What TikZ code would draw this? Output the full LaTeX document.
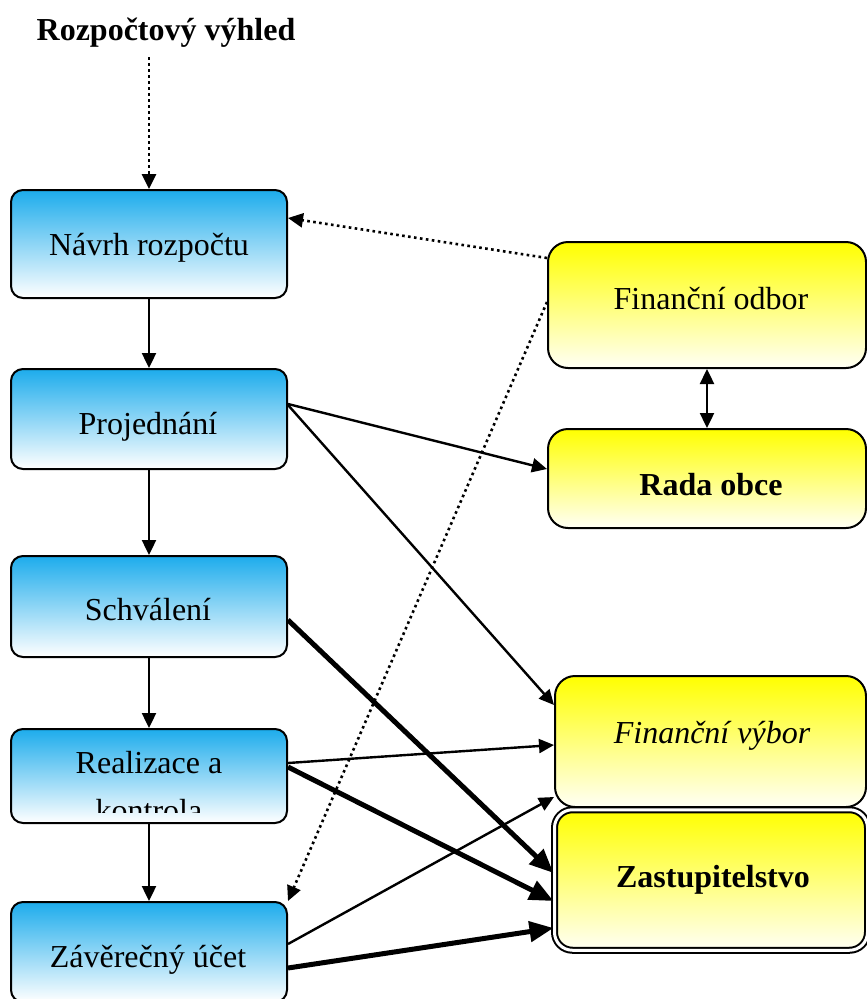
\documentclass[tikz,border=0pt]{standalone}
\usepackage{fontspec}
\setmainfont{Liberation Serif}
\usetikzlibrary{arrows.meta}
\definecolor{bluetop}{RGB}{29,172,236}
\definecolor{yellowtop}{RGB}{255,255,0}
\definecolor{yellowbot}{RGB}{255,255,245}
\begin{document}
\begin{tikzpicture}[x=1pt,y=-1pt,
  bluebox/.style={draw=black, line width=2pt, rounded corners=12pt, top color=bluetop, bottom color=white, minimum width=276pt, inner sep=0pt},
  yellowbox/.style={draw=black, line width=2pt, rounded corners=20pt, top color=yellowtop, bottom color=yellowbot, inner sep=0pt},
  txt/.style={anchor=base, inner sep=0pt, font=\fontsize{32}{36}\selectfont},
  flow/.style={line width=2.4pt, -{Triangle[length=15pt,width=14pt]}},
  heavy/.style={line width=5pt, -{Triangle[length=24pt,width=20pt]}},
  dotflow/.style={line width=2.6pt, dash pattern=on 2.6pt off 3.4pt, -{Triangle[length=15pt,width=14pt]}},
  both/.style={line width=2.4pt, {Triangle[length=15pt,width=14pt]}-{Triangle[length=15pt,width=14pt]}}
]
\useasboundingbox (0,0) rectangle (867,999);
\clip (0,0) rectangle (867,999);

% title
\node[txt, font=\fontsize{32}{36}\selectfont\bfseries] (title) at (166,40) {Rozpočtový výhled};

% left column
\node[bluebox, minimum height=108pt] (navrh) at (149,244) {};
\node[txt] (tnavrh) at (149,255) {Návrh rozpočtu};

\node[bluebox, minimum height=100pt] (proj) at (149,419) {};
\node[txt] (tproj) at (148,434) {Projednání};

\node[bluebox, minimum height=101pt] (schv) at (149,606.5) {};
\node[txt] (tschv) at (148,620) {Schválení};

\node[bluebox, minimum height=94pt] (real) at (149,776) {};
\node[txt] (treal1) at (149,773) {Realizace a};
\begin{scope}
  \clip (11,729) rectangle (287,812);
  \node[txt] (treal2) at (149,821) {kontrola};
\end{scope}

\node[bluebox, minimum height=100pt] (zav) at (149,952) {};
\node[txt] (tzav) at (148,967) {Závěrečný účet};

% right column
\node[yellowbox, minimum width=318pt, minimum height=126pt] (fo) at (707,305) {};
\node[txt] (tfo) at (711,309) {Finanční odbor};

\node[yellowbox, minimum width=318pt, minimum height=99pt] (rada) at (707,478.5) {};
\node[txt, font=\fontsize{32}{36}\selectfont\bfseries] (trada) at (711,495) {Rada obce};

\node[yellowbox, minimum width=311pt, minimum height=131pt] (fv) at (710.5,741.5) {};
\node[txt, font=\fontsize{32}{36}\selectfont\itshape] (tfv) at (712,743) {Finanční výbor};

\node[yellowbox, double=white, double distance=3pt, rounded corners=18pt, minimum width=313pt, minimum height=140.5pt] (zast) at (711,880) {};
\node[txt, font=\fontsize{32}{36}\selectfont\bfseries] (tzast) at (713,887) {Zastupitelstvo};

% connectors
\draw[dotflow, shorten <=10pt] (title.south -| navrh.north) -- (navrh.north);
\draw[dotflow] ([yshift=47pt]fo.west) -- ([yshift=26pt]navrh.east);
\draw[dotflow] ([yshift=3pt]fo.west) -- (zav.north east);

\draw[flow] (navrh.south) -- (proj.north);
\draw[flow] (proj.south) -- (schv.north);
\draw[flow] (schv.south) -- (real.north);
\draw[flow] (real.south) -- (zav.north);

\draw[both] (fo.south) -- (rada.north);

\draw[flow] ([yshift=15pt]proj.east) -- ([yshift=9.5pt]rada.west);
\draw[flow] ([yshift=14pt]proj.east) -- ([yshift=36.5pt]fv.west);
\draw[heavy] ([yshift=-13.5pt]schv.east) -- ([yshift=7pt]zast.west);
\draw[flow] ([yshift=13pt]real.east) -- ([yshift=-3.5pt]fv.west);
\draw[heavy] ([yshift=9pt]real.east) -- ([yshift=-21pt]zast.west);
\draw[flow] ([yshift=8pt]zav.east) -- ([yshift=-55.5pt]fv.west);
\draw[heavy] ([yshift=-16pt]zav.east) -- ([yshift=-48pt]zast.west);
\end{tikzpicture}
\end{document}
